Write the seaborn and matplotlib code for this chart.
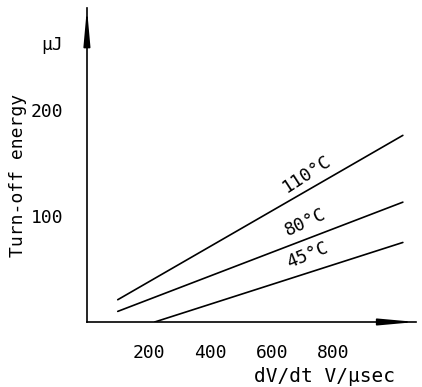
import matplotlib
matplotlib.use("Agg")
import matplotlib.pyplot as plt
import seaborn as sns
import pandas as pd

# Data
series = ["110 °C", "80 °C", "45 °C"]
x_start = [100, 100, 220]
x_end = [1025, 1025, 1025]
y_start = [21, 10, 0]
y_end = [176, 113, 75]
x_ticks = [200, 400, 600, 800]
y_ticks = [100, 200]

rows = []
for s, xa, xb, ya, yb in zip(series, x_start, x_end, y_start, y_end):
    rows.append({"series": s, "dvdt": xa, "energy": ya})
    rows.append({"series": s, "dvdt": xb, "energy": yb})
df = pd.DataFrame(rows)

sns.set_theme(style="white")
plt.rcParams["font.family"] = ["DejaVu Sans Mono", "DejaVu Sans"]
plt.rcParams["text.color"] = "black"

fig = plt.figure(figsize=(4.22, 3.87), dpi=100)
ax = fig.add_axes([0.206, 0.168, 0.78, 0.811])

sns.lineplot(data=df, x="dvdt", y="energy", units="series", estimator=None,
             color="black", linewidth=1.2, ax=ax, legend=False)

ax.set_xlim(0, 1068)
ax.set_ylim(0, 296)
ax.set_xticks(x_ticks)
ax.set_xticklabels([str(v) for v in x_ticks], fontsize=13)
ax.set_yticks(y_ticks)
ax.set_yticklabels([str(v) for v in y_ticks], fontsize=13)
ax.tick_params(axis="both", length=0, colors="black")
ax.tick_params(axis="x", pad=16)
ax.tick_params(axis="y", pad=17)
ax.set_xlabel("")
ax.set_ylabel("")

for sp in ["top", "right"]:
    ax.spines[sp].set_visible(False)
for sp in ["left", "bottom"]:
    ax.spines[sp].set_color("black")
    ax.spines[sp].set_linewidth(1.2)

# arrowheads
astyle = "-|>,head_length=1.55,head_width=0.14"
ax.annotate("", xy=(1.0, 0), xytext=(0.9, 0), xycoords="axes fraction",
            arrowprops=dict(arrowstyle=astyle, color="black", lw=1.2,
                            mutation_scale=14, shrinkA=0, shrinkB=0))
ax.annotate("", xy=(0, 1.0), xytext=(0, 0.9), xycoords="axes fraction",
            arrowprops=dict(arrowstyle=astyle, color="black", lw=1.2,
                            mutation_scale=14, shrinkA=0, shrinkB=0))

# curve labels
label_pos = [(714, 140, 33), (708, 94, 25), (714, 63, 22)]
for s, (lx, ly, rot) in zip(series, label_pos):
    ax.text(lx, ly, s.replace(" ", ""), fontsize=13, rotation=rot,
            rotation_mode="anchor", ha="center", va="center", color="black")

ax.text(-0.106, 0.882, "μJ", transform=ax.transAxes, fontsize=13,
        ha="center", va="center", color="black")
fig.text(18 / 422, 1 - 175 / 387, "Turn-off energy", rotation=90,
         fontsize=13, ha="center", va="center", color="black")
fig.text(325 / 422, 1 - 376 / 387, "dV/dt V/μsec", fontsize=14,
         ha="center", va="center", color="black")

fig.savefig("out.png", dpi=100)
